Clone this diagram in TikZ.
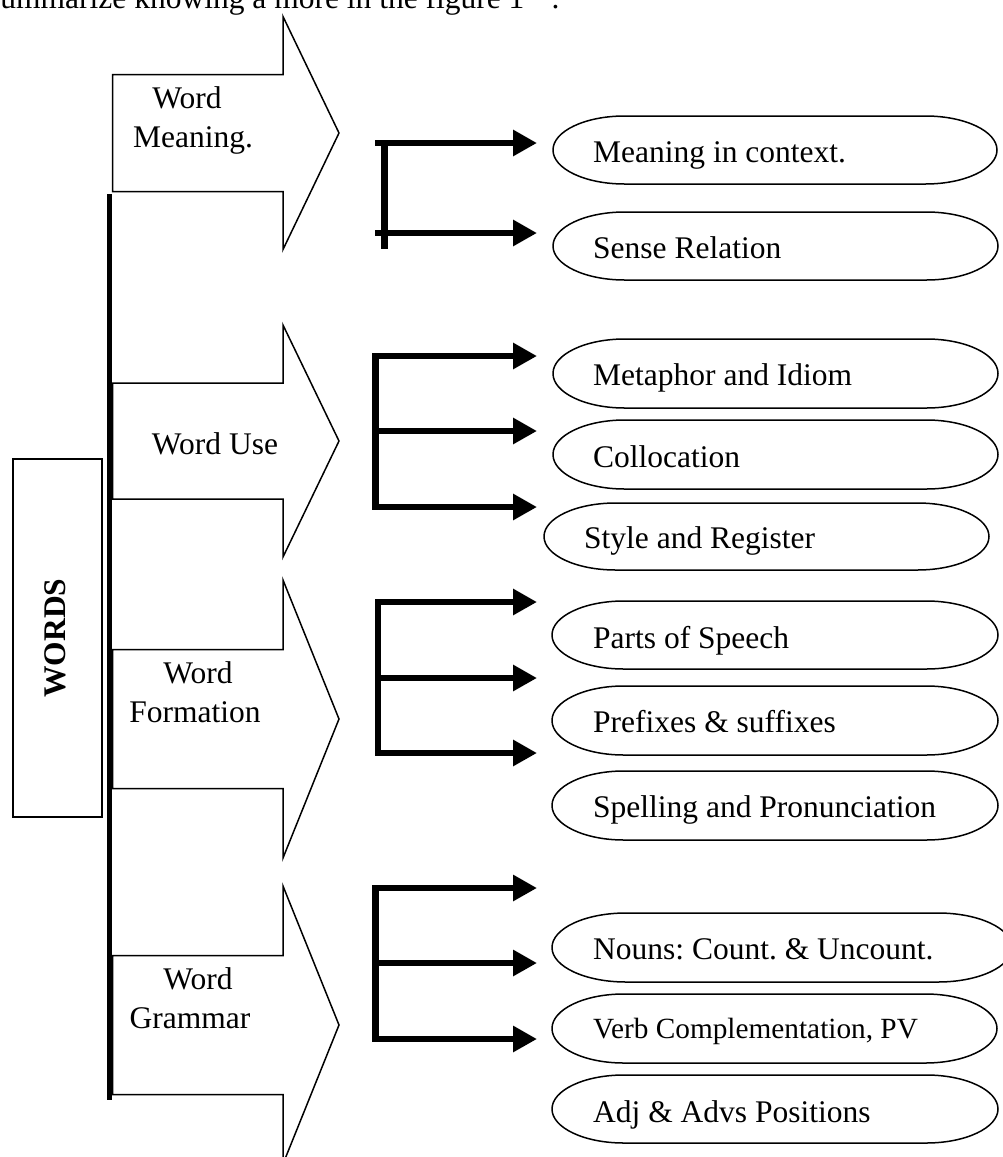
\documentclass[tikz,border=0pt]{standalone}
\usepackage{fontspec}
\setmainfont{Liberation Serif}
\usetikzlibrary{arrows.meta}
\frenchspacing
\newcommand{\terminbox}[4]{% left, right, top, bottom (px)
  \pgfmathsetmacro{\termRX}{0.1609*(#2-#1)}%
  \pgfmathsetmacro{\termRY}{(#4-#3)/2}%
  \draw[outl] ({#1+\termRX},#3) -- ({#2-\termRX},#3)
    arc[start angle=90,end angle=-90,x radius=\termRX pt,y radius=\termRY pt]
    -- ({#1+\termRX},#4)
    arc[start angle=270,end angle=90,x radius=\termRX pt,y radius=\termRY pt] -- cycle;}
\newcommand{\blockarrow}[4]{% name, tip y, shaft half, head half
  \draw[outl,fill=white] (112.5,{#2-#3}) -- (283,{#2-#3}) -- (283,{#2-#4}) -- (339,#2)
    -- (283,{#2+#4}) -- (283,{#2+#3}) -- (112.5,{#2+#3}) -- cycle;
  \coordinate (#1) at (339,#2);}
\tikzset{
  outl/.style={line width=1.5pt,draw=black},
  brk/.style={line width=6.5pt},
  brkarrow/.style={line width=6.5pt,-{Triangle[length=24pt,width=25pt]}},
  txt/.style={font=\fontsize{31.5}{39}\selectfont,inner sep=0pt},
  lbl/.style={txt,anchor=base},
  tlbl/.style={txt,anchor=base west},
}
\begin{document}
\begin{tikzpicture}[x=1pt,y=-1pt]
\useasboundingbox (0,0) rectangle (1003,1157);
\fill[white] (0,0) rectangle (1003,1157);

% caption line (cut at top, as in the source)
\node[tlbl] (cap) at (-12,8) {summarize knowing a more in the figure 1 \,”.};

% block arrows
\blockarrow{tipA}{133}{58.5}{116.5}
\blockarrow{tipB}{441}{58}{116}
\blockarrow{tipC}{719}{69.5}{139}
\blockarrow{tipD}{1025}{69.5}{139}

% spine
\coordinate (spT) at (109.5,194);
\coordinate (spB) at (109.5,1100);
\draw[line width=5.5pt] (spT) -- (spB);

% WORDS box
\node[draw,line width=1.5pt,minimum width=89pt,minimum height=358pt,inner sep=0pt] (wordsbox) at (57.5,638) {};
\node[lbl,rotate=90,font=\bfseries\fontsize{31.5}{39}\selectfont] (words) at (65,638) {WORDS};

% arrow labels
\node[lbl] (wm1) at (187,108) {Word};
\node[lbl] (wm2) at (193,147) {Meaning.};
\node[lbl] (wu) at (215,454) {Word Use};
\node[lbl] (wf1) at (198,683) {Word};
\node[lbl] (wf2) at (195,722) {Formation};
\node[lbl] (wg1) at (198,989) {Word};
\node[lbl] (wg2) at (190,1028) {Grammar};

% terminator shapes
\terminbox{553}{997}{116}{184}
\terminbox{553}{998}{212}{280}
\terminbox{553}{998}{339}{408}
\terminbox{553}{998}{420}{489}
\terminbox{544}{989}{503}{570}
\terminbox{552}{998}{601}{669}
\terminbox{552}{998}{686}{755}
\terminbox{552}{998}{771}{840}
\terminbox{552}{1012}{913}{982}
\terminbox{552}{997}{994}{1063}
\terminbox{552}{998}{1075}{1143}

% terminator texts
\node[tlbl] (t1) at (593,162) {Meaning in context.};
\node[tlbl] (t2) at (593,258) {Sense Relation};
\node[tlbl] (t3) at (593,385) {Metaphor and Idiom};
\node[tlbl] (t4) at (593,467) {Collocation};
\node[tlbl] (t5) at (584,548) {Style and Register};
\node[tlbl] (t6) at (593,648) {Parts of Speech};
\node[tlbl] (t7) at (593,732) {Prefixes \& suffixes};
\node[tlbl] (t8) at (593,817) {Spelling and Pronunciation};
\node[tlbl] (t9) at (593,959) {Nouns: Count. \& Uncount.};
\node[tlbl,font=\fontsize{29.3}{36}\selectfont] (t10) at (593,1038) {Verb Complementation, PV};
\node[tlbl] (t11) at (593,1122) {Adj \& Advs Positions};

% bracket 1
\coordinate (b1s1) at (375,143); \coordinate (b1e1) at (537,143);
\coordinate (b1s2) at (375,233); \coordinate (b1e2) at (537,233);
\coordinate (b1vt) at (384.5,140); \coordinate (b1vb) at (384.5,249);
\draw[brk] (b1vt) -- (b1vb);
\draw[brkarrow] (b1s1) -- (b1e1);
\draw[brkarrow] (b1s2) -- (b1e2);

% bracket 2
\coordinate (b2vt) at (375.5,353); \coordinate (b2vb) at (375.5,510);
\draw[brk] (b2vt) -- (b2vb);
\foreach \i/\y in {1/356,2/431,3/507}{
  \coordinate (b2s\i) at (372,\y); \coordinate (b2e\i) at (537,\y);
  \draw[brkarrow] (b2s\i) -- (b2e\i);}

% bracket 3
\coordinate (b3vt) at (378,599); \coordinate (b3vb) at (378,756);
\draw[brk] (b3vt) -- (b3vb);
\foreach \i/\y in {1/602,2/678,3/753}{
  \coordinate (b3s\i) at (375,\y); \coordinate (b3e\i) at (537,\y);
  \draw[brkarrow] (b3s\i) -- (b3e\i);}

% bracket 4
\coordinate (b4vt) at (375.5,885); \coordinate (b4vb) at (375.5,1042);
\draw[brk] (b4vt) -- (b4vb);
\foreach \i/\y in {1/888,2/963,3/1039}{
  \coordinate (b4s\i) at (372,\y); \coordinate (b4e\i) at (537,\y);
  \draw[brkarrow] (b4s\i) -- (b4e\i);}
\end{tikzpicture}
\end{document}
